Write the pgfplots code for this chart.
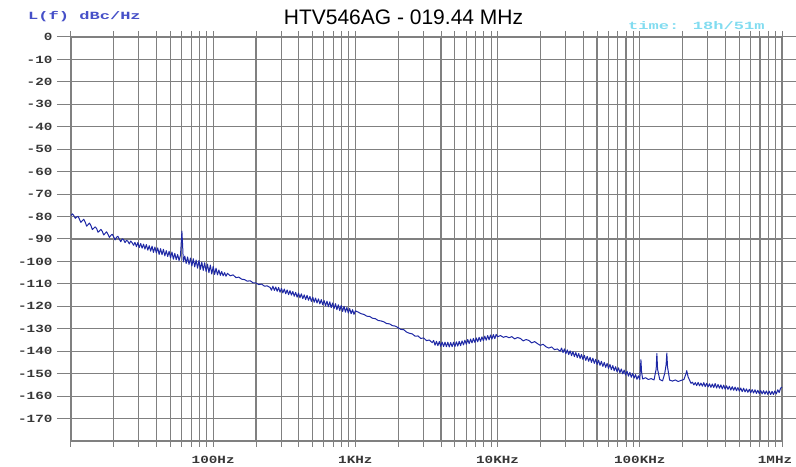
\documentclass[border=0pt]{standalone}
\usepackage{fontspec}
\setmainfont{Liberation Sans}
\newfontfamily\tickfont[FakeStretch=1.3]{Liberation Mono}
\newfontfamily\hdrfont[FakeStretch=1.55]{Liberation Mono}
\usepackage{pgfplots}
\usepackage{pgfplotstable}
\pgfplotsset{compat=1.18}
\definecolor{gridc}{RGB}{128,128,128}
\definecolor{trace}{RGB}{30,40,165}
\definecolor{lblue}{RGB}{70,80,200}
\definecolor{cyant}{RGB}{130,220,240}
\definecolor{tickc}{RGB}{55,55,55}

\pgfplotstableread{
lf L
1.00 -79.5
1.01 -78.8
1.02 -79.6
1.03 -80.8
1.04 -80.2
1.05 -79.9
1.06 -81.3
1.07 -82.6
1.08 -81.8
1.09 -81.2
1.10 -82.5
1.11 -84.3
1.12 -83.6
1.13 -82.9
1.14 -84.0
1.15 -85.8
1.16 -85.2
1.17 -84.6
1.18 -85.3
1.19 -87.0
1.20 -86.4
1.21 -85.7
1.22 -86.6
1.23 -88.2
1.24 -87.5
1.25 -86.8
1.26 -87.9
1.27 -89.3
1.28 -88.4
1.29 -87.9
1.30 -89.0
1.31 -90.4
1.32 -89.2
1.33 -88.8
1.34 -90.1
1.35 -91.2
1.36 -89.9
1.37 -90.3
1.38 -91.6
1.39 -90.6
1.40 -91.0
1.41 -92.2
1.42 -90.9
1.43 -91.7
1.44 -92.8
1.45 -91.5
1.46 -93.4
1.47 -91.6
1.48 -93.8
1.49 -92.0
1.50 -94.1
1.51 -92.3
1.52 -94.5
1.53 -92.5
1.54 -95.0
1.55 -93.0
1.56 -95.4
1.57 -93.2
1.58 -96.0
1.59 -93.6
1.60 -96.2
1.61 -94.0
1.62 -96.9
1.63 -94.3
1.64 -97.0
1.65 -94.6
1.66 -97.5
1.67 -95.2
1.68 -97.8
1.69 -95.5
1.70 -98.4
1.71 -95.8
1.72 -99.0
1.73 -96.4
1.74 -99.2
1.75 -96.9
1.76 -99.6
1.77 -97.2
1.775 -92.0
1.78 -86.5
1.785 -93.0
1.79 -100.2
1.80 -97.6
1.81 -100.9
1.82 -98.0
1.83 -101.3
1.84 -98.5
1.85 -102.0
1.86 -98.8
1.87 -102.4
1.88 -99.4
1.89 -103.0
1.90 -99.6
1.91 -103.5
1.92 -100.3
1.93 -104.0
1.94 -100.6
1.95 -104.5
1.96 -101.2
1.97 -105.0
1.98 -101.6
1.99 -105.6
2.00 -102.2
2.01 -105.8
2.02 -103.0
2.03 -106.0
2.04 -103.8
2.05 -106.2
2.06 -104.5
2.07 -106.4
2.08 -105.0
2.09 -106.6
2.10 -105.3
2.12 -106.4
2.14 -106.0
2.16 -107.2
2.18 -107.0
2.20 -107.9
2.22 -108.1
2.24 -108.8
2.26 -108.6
2.28 -109.5
2.30 -109.6
2.32 -110.3
2.34 -110.1
2.36 -111.0
2.38 -110.9
2.40 -111.6
2.41 -112.8
2.42 -111.0
2.43 -112.9
2.44 -111.4
2.45 -113.3
2.46 -111.6
2.47 -113.7
2.48 -112.0
2.49 -114.0
2.50 -112.3
2.51 -114.4
2.52 -112.7
2.53 -114.8
2.54 -113.0
2.55 -115.0
2.56 -113.4
2.57 -115.5
2.58 -113.8
2.59 -115.9
2.60 -114.1
2.61 -116.2
2.62 -114.4
2.63 -116.6
2.64 -114.9
2.65 -117.0
2.66 -115.1
2.67 -117.3
2.68 -115.6
2.69 -117.8
2.70 -115.9
2.71 -118.2
2.72 -116.3
2.73 -118.5
2.74 -116.7
2.75 -118.9
2.76 -117.0
2.77 -119.3
2.78 -117.4
2.79 -119.8
2.80 -117.7
2.81 -120.2
2.82 -118.0
2.83 -120.6
2.84 -118.5
2.85 -121.0
2.86 -118.8
2.87 -121.5
2.88 -119.3
2.89 -121.9
2.90 -119.6
2.91 -122.3
2.92 -120.0
2.93 -122.6
2.94 -120.5
2.95 -123.0
2.96 -121.0
2.97 -123.3
2.98 -121.5
2.99 -123.6
3.00 -122.0
3.02 -122.6
3.04 -123.3
3.06 -123.6
3.08 -124.4
3.10 -124.5
3.12 -125.3
3.14 -125.5
3.16 -126.3
3.18 -126.5
3.20 -126.9
3.22 -127.7
3.24 -127.8
3.26 -128.6
3.28 -128.8
3.30 -129.5
3.32 -130.3
3.34 -130.4
3.36 -131.5
3.38 -132.0
3.40 -132.3
3.42 -133.3
3.44 -133.2
3.46 -134.3
3.48 -134.1
3.50 -135.3
3.52 -135.0
3.54 -136.2
3.55 -135.2
3.56 -137.3
3.57 -135.6
3.58 -137.5
3.59 -135.7
3.60 -137.8
3.61 -135.9
3.62 -137.9
3.63 -136.0
3.64 -138.0
3.65 -136.0
3.66 -138.1
3.67 -136.1
3.68 -138.0
3.69 -136.0
3.70 -137.9
3.71 -135.8
3.72 -137.7
3.73 -135.6
3.74 -137.5
3.75 -135.4
3.76 -137.2
3.77 -135.1
3.78 -136.9
3.79 -134.8
3.80 -136.6
3.81 -134.6
3.82 -136.3
3.83 -134.3
3.84 -136.1
3.85 -134.1
3.86 -135.8
3.87 -133.8
3.88 -135.6
3.89 -133.6
3.90 -135.3
3.91 -133.3
3.92 -135.1
3.93 -133.0
3.94 -134.9
3.95 -132.8
3.96 -134.6
3.97 -132.6
3.98 -134.4
3.99 -132.5
4.00 -133.6
4.02 -133.0
4.04 -133.8
4.06 -133.4
4.08 -134.0
4.10 -133.5
4.12 -134.5
4.14 -133.9
4.16 -134.3
4.18 -135.4
4.20 -134.8
4.22 -135.2
4.24 -136.3
4.26 -135.7
4.28 -136.6
4.30 -137.4
4.32 -136.9
4.34 -138.0
4.36 -138.6
4.38 -138.1
4.40 -139.3
4.42 -139.0
4.44 -140.0
4.45 -138.6
4.46 -140.6
4.47 -139.0
4.48 -141.1
4.49 -139.4
4.50 -141.5
4.51 -139.8
4.52 -142.0
4.53 -140.2
4.54 -142.4
4.55 -140.6
4.56 -142.8
4.57 -141.0
4.58 -143.2
4.59 -141.4
4.60 -143.7
4.61 -141.8
4.62 -144.1
4.63 -142.3
4.64 -144.5
4.65 -142.7
4.66 -145.0
4.67 -143.1
4.68 -145.4
4.69 -143.6
4.70 -145.9
4.71 -144.0
4.72 -146.3
4.73 -144.5
4.74 -146.8
4.75 -145.0
4.76 -147.2
4.77 -145.4
4.78 -147.7
4.79 -145.9
4.80 -148.2
4.81 -146.4
4.82 -148.7
4.83 -146.9
4.84 -149.2
4.85 -147.4
4.86 -149.6
4.87 -147.9
4.88 -150.1
4.89 -148.4
4.90 -150.6
4.91 -148.9
4.92 -151.1
4.93 -149.4
4.94 -151.6
4.95 -149.9
4.96 -152.0
4.97 -150.4
4.98 -152.5
4.99 -151.0
5.00 -152.6
5.004 -148.0
5.008 -143.8
5.012 -149.0
5.02 -152.4
5.04 -151.8
5.06 -152.6
5.08 -152.2
5.10 -152.8
5.115 -148.0
5.12 -141.0
5.125 -148.0
5.14 -152.6
5.16 -153.2
5.175 -150.0
5.185 -146.0
5.19 -140.8
5.195 -147.0
5.21 -152.9
5.23 -153.3
5.25 -152.8
5.27 -153.5
5.29 -153.0
5.31 -152.6
5.325 -150.0
5.33 -148.7
5.34 -151.5
5.36 -154.3
5.37 -153.8
5.38 -155.0
5.39 -154.0
5.40 -155.3
5.41 -153.9
5.42 -155.4
5.43 -154.2
5.44 -155.6
5.45 -154.0
5.46 -155.8
5.47 -154.3
5.48 -155.9
5.49 -154.5
5.50 -156.1
5.51 -154.6
5.52 -156.2
5.53 -154.4
5.54 -156.4
5.55 -154.8
5.56 -156.5
5.57 -155.0
5.58 -156.8
5.59 -155.1
5.60 -156.9
5.61 -155.4
5.62 -157.0
5.63 -155.6
5.64 -157.3
5.65 -155.8
5.66 -157.4
5.67 -156.0
5.68 -157.6
5.69 -156.2
5.70 -157.8
5.71 -156.4
5.72 -158.0
5.73 -156.5
5.74 -158.1
5.75 -156.8
5.76 -158.3
5.77 -157.0
5.78 -158.5
5.79 -157.1
5.80 -158.6
5.81 -157.2
5.82 -158.8
5.83 -157.4
5.84 -158.9
5.85 -157.5
5.86 -159.0
5.87 -157.6
5.88 -159.1
5.89 -157.7
5.90 -159.2
5.91 -157.8
5.92 -159.3
5.93 -157.9
5.94 -159.3
5.95 -157.7
5.96 -159.0
5.97 -157.2
5.98 -158.4
5.99 -156.5
6.00 -156.0
}\noise

\begin{document}
\begin{tikzpicture}[x=1bp,y=1bp]
\begin{axis}[
  at={(0,0)}, anchor=south west,
  scale only axis, width=711bp, height=404bp,
  xmin=1, xmax=6, ymin=-180, ymax=0,
  xtick={2,3,4,5,6},
  xticklabels={100Hz,1KHz,10KHz,100KHz,\hspace*{-14bp}1MHz},
  minor xtick={1,1.30103,1.47712,1.60206,1.69897,1.77815,1.84510,1.90309,1.95424,
    2,2.30103,2.47712,2.60206,2.69897,2.77815,2.84510,2.90309,2.95424,
    3,3.30103,3.47712,3.60206,3.69897,3.77815,3.84510,3.90309,3.95424,
    4,4.30103,4.47712,4.60206,4.69897,4.77815,4.84510,4.90309,4.95424,
    5,5.30103,5.47712,5.60206,5.69897,5.77815,5.84510,5.90309,5.95424,6},
  ytick={-170,-160,...,0},
  yticklabels={-170,-160,-150,-140,-130,-120,-110,-100,-90,-80,-70,-60,-50,-40,-30,-20,-10,0},
  grid=both,
  major grid style={draw=gridc, line width=1.1bp},
  minor grid style={draw=gridc, line width=1.1bp},
  axis line style={draw=gridc, line width=1.1bp},
  tick align=outside,
  major tick length=14bp,
  minor tick length=6bp,
  major x tick style={draw=none},
  minor x tick style={draw=gridc, line width=1bp},
  ytick style={draw=gridc, line width=1bp},
  yticklabel style={font=\tickfont\bfseries\fontsize{11bp}{12bp}\selectfont, text=tickc, xshift=-1bp},
  xticklabel style={font=\tickfont\bfseries\fontsize{11bp}{12bp}\selectfont, text=tickc, yshift=2bp},
  clip=true,
]
\addplot[trace, line width=1.0bp, line join=round] table[x=lf, y=L] {\noise};
\end{axis}
\node[font=\fontsize{21bp}{24bp}\selectfont] at (332.5,423.5) {HTV546AG - 019.44 MHz};
\node[anchor=west, inner sep=0pt, text=lblue, font=\hdrfont\bfseries\fontsize{11bp}{12bp}\selectfont] at (-43,424) {L(f) dBc/Hz};
\node[anchor=west, inner sep=0pt, text=cyant, font=\hdrfont\bfseries\fontsize{11bp}{12bp}\selectfont] at (557,415.5) {time: 18h/51m};
\pgfresetboundingbox
\useasboundingbox (-71,-26) rectangle (725,441);
\end{tikzpicture}
\end{document}
